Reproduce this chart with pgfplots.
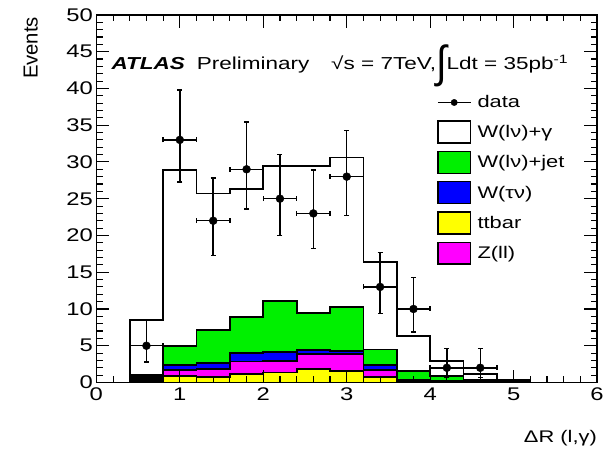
\documentclass[border=0pt]{standalone}
\usepackage{fontspec}
\setmainfont{Liberation Sans}[FakeStretch=1.3]
\newfontfamily\plainsans{Liberation Sans}
\usepackage{pgfplots}
\pgfplotsset{compat=1.18}
\definecolor{rgreen}{RGB}{0,240,0}
\definecolor{rblue}{RGB}{0,0,255}
\definecolor{ryellow}{RGB}{255,255,0}
\definecolor{rmagenta}{RGB}{255,0,255}
\begin{document}
\begin{tikzpicture}
\begin{axis}[name=ax, scale only axis, width=504bp, height=370bp,
  xmin=0, xmax=6, ymin=0, ymax=50,
  xtick={0,1,2,3,4,5,6}, ytick={0,5,10,15,20,25,30,35,40,45,50},
  minor x tick num=4, minor y tick num=4,
  tick align=inside, tick pos=both,
  major tick length=13bp, minor tick length=6.5bp,
  every tick/.style={black, line width=1.1bp},
  axis line style={line width=1.4bp},
  axis on top,
  /pgf/number format/assume math mode=true,
  tick label style={font=\fontsize{18.5}{20}\selectfont},
  xticklabel style={yshift=-2bp},
  xlabel={ΔR (l,γ)},
  xlabel style={at={(axis description cs:1,0)}, anchor=north east, inner sep=0pt, yshift=-48bp, font=\fontsize{17}{19}\selectfont},
  ylabel={Events},
  ylabel style={at={(axis description cs:-0.131,0.995)}, anchor=east, inner sep=0pt, font=\plainsans\fontsize{20.5}{22}\selectfont},
  legend style={at={(axis cs:4.08,39.6)}, anchor=north west, draw=none, fill=none, inner sep=0pt, row sep=7bp,
    font=\fontsize{17}{19}\selectfont, nodes={inner sep=0pt}},
  legend cell align=left,
]
% legend
\addlegendimage{legend image code/.code={\path[draw=none,fill=none] (0bp,-11bp) rectangle (40bp,11bp); \draw[line width=1.3bp] (0bp,0bp) -- (33bp,0bp); \fill (16.5bp,0bp) circle (3.2bp);}}
\addlegendentry{data}
\addlegendimage{legend image code/.code={\path[draw=none,fill=none] (0bp,-11bp) rectangle (40bp,11bp); \draw[fill=white, line width=1.5bp] (0bp,-11bp) rectangle (33bp,11bp);}}
\addlegendentry{W(lν)+γ}
\addlegendimage{legend image code/.code={\path[draw=none,fill=none] (0bp,-11bp) rectangle (40bp,11bp); \draw[fill=rgreen, line width=1.5bp] (0bp,-11bp) rectangle (33bp,11bp);}}
\addlegendentry{W(lν)+jet}
\addlegendimage{legend image code/.code={\path[draw=none,fill=none] (0bp,-11bp) rectangle (40bp,11bp); \draw[fill=rblue, line width=1.5bp] (0bp,-11bp) rectangle (33bp,11bp);}}
\addlegendentry{W(τν)}
\addlegendimage{legend image code/.code={\path[draw=none,fill=none] (0bp,-11bp) rectangle (40bp,11bp); \draw[fill=ryellow, line width=1.5bp] (0bp,-11bp) rectangle (33bp,11bp);}}
\addlegendentry{ttbar}
\addlegendimage{legend image code/.code={\path[draw=none,fill=none] (0bp,-11bp) rectangle (40bp,11bp); \draw[fill=rmagenta, line width=1.5bp] (0bp,-11bp) rectangle (33bp,11bp);}}
\addlegendentry{Z(ll)}

% stacked histograms (cumulative tops, bins of 0.4 from 0.4 to 5.2)
\addplot[forget plot, const plot, fill=white, draw=black, line width=1.8bp] coordinates {
(0.4,8.5) (0.8,28.9) (1.2,25.7) (1.6,26.3) (2.0,29.4) (2.4,29.5) (2.8,30.6) (3.2,16.4) (3.6,6.3) (4.0,2.9) (4.4,1.2) (4.8,0.3) (5.2,0.3)} \closedcycle;
\addplot[forget plot, const plot, fill=rgreen, draw=black, line width=1.8bp] coordinates {
(0.4,1.0) (0.8,5.0) (1.2,7.1) (1.6,8.9) (2.0,11.1) (2.4,9.5) (2.8,10.3) (3.2,4.5) (3.6,1.6) (4.0,0.9) (4.4,0.35) (4.8,0.1) (5.2,0.1)} \closedcycle;
\addplot[forget plot, const plot, fill=rblue, draw=black, line width=1.8bp] coordinates {
(0.4,0.75) (0.8,2.4) (1.2,2.6) (1.6,4.0) (2.0,4.2) (2.4,4.4) (2.8,4.3) (3.2,2.4) (3.6,0.4) (4.0,0.15) (4.4,0.15) (4.8,0) (5.2,0)} \closedcycle;
\addplot[forget plot, const plot, fill=rmagenta, draw=black, line width=1.8bp] coordinates {
(0.4,0.5) (0.8,1.7) (1.2,1.8) (1.6,2.85) (2.0,2.9) (2.4,3.85) (2.8,3.9) (3.2,1.7) (3.6,0.3) (4.0,0.1) (4.4,0.1) (4.8,0) (5.2,0)} \closedcycle;
\addplot[forget plot, const plot, fill=ryellow, draw=black, line width=1.8bp] coordinates {
(0.4,0.25) (0.8,0.9) (1.2,0.7) (1.6,1.2) (2.0,1.35) (2.4,1.8) (2.8,1.6) (3.2,0.8) (3.6,0.2) (4.0,0.05) (4.4,0.05) (4.8,0) (5.2,0)} \closedcycle;

% data with Poisson errors
\addplot[forget plot, only marks, mark=*, mark size=4bp, black,
  error bars/.cd, x dir=both, x explicit, y dir=both, y explicit,
  error bar style={line width=1.5bp}, error mark options={rotate=90, mark size=2.5bp, line width=1.5bp}]
coordinates {
(0.6,5) += (0.2,3.4) -= (0.2,2.2)
(1.0,33) += (0.2,6.8) -= (0.2,5.7)
(1.4,22) += (0.2,5.8) -= (0.2,4.7)
(1.8,29) += (0.2,6.4) -= (0.2,5.4)
(2.2,25) += (0.2,6.0) -= (0.2,5.0)
(2.6,23) += (0.2,5.9) -= (0.2,4.8)
(3.0,28) += (0.2,6.3) -= (0.2,5.3)
(3.4,13) += (0.2,4.7) -= (0.2,3.6)
(3.8,10) += (0.2,4.3) -= (0.2,3.1)
(4.2,2) += (0.2,2.6) -= (0.2,1.3)
(4.6,2) += (0.2,2.6) -= (0.2,1.3)
};

\node[anchor=base west, inner sep=0pt, font=\fontsize{17.5}{19}\selectfont] at (axis cs:0.179,42.6)
  {\textbf{\textit{ATLAS}}\hspace{12bp}Preliminary\hspace{22bp}√s = 7TeV,\raisebox{-8bp}{\scalebox{1}[1.5]{\fontsize{30}{30}\selectfont ∫}}Ldt = 35pb\textsuperscript{-1}};
\end{axis}
\path (ax.south west) ++(-97bp,-72bp) rectangle ([xshift=6bp,yshift=15bp]ax.north east);
\end{tikzpicture}
\end{document}
